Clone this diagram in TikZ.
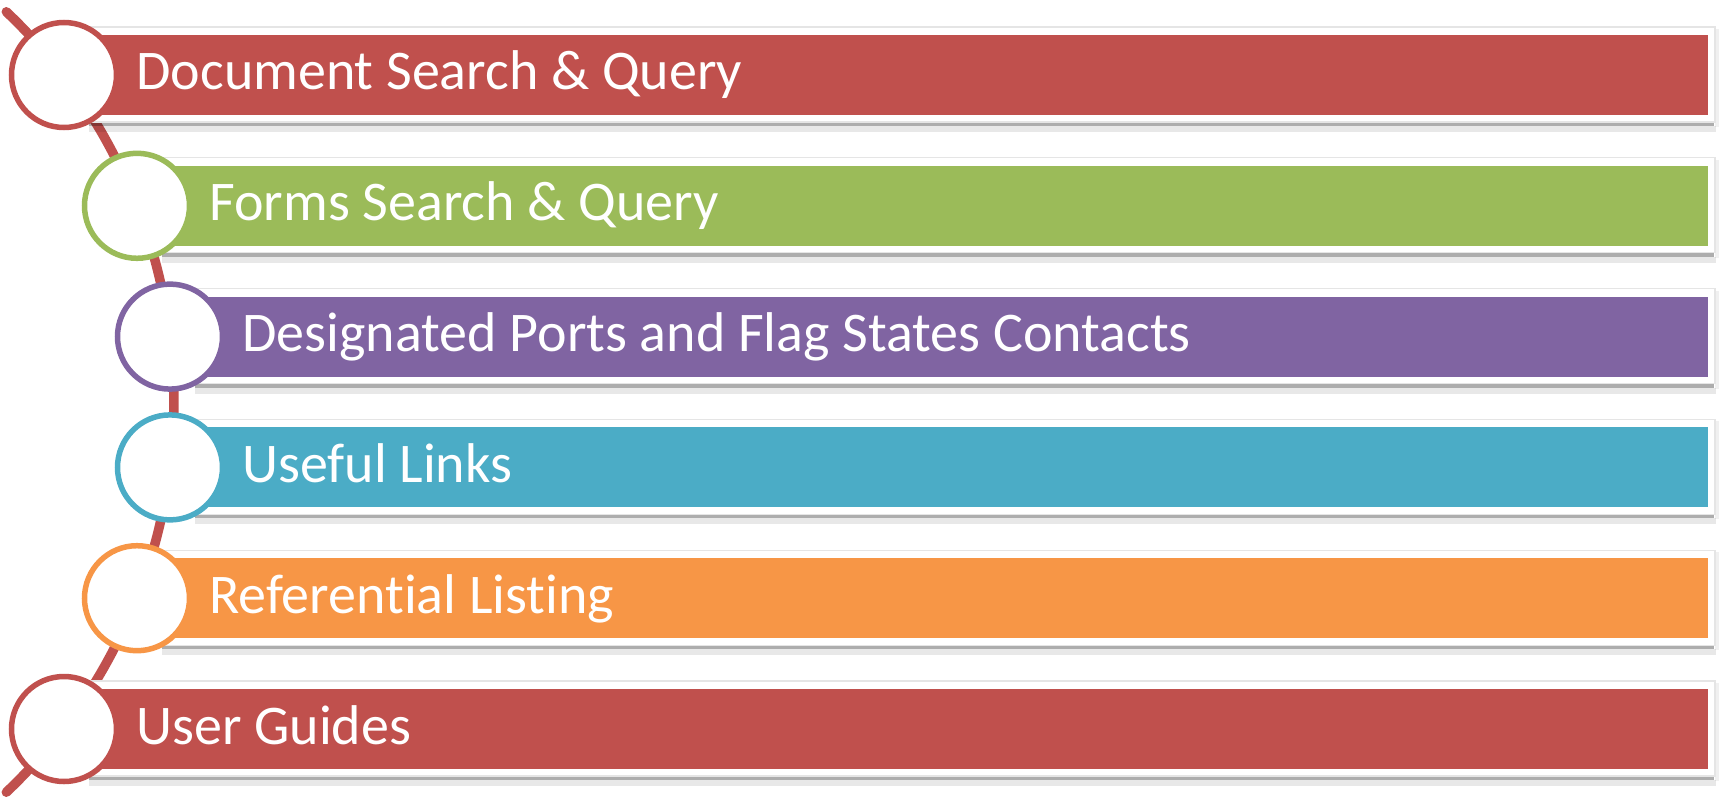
\documentclass[tikz,border=0pt]{standalone}
\usepackage{fontspec}
\setmainfont{Carlito}[Ligatures=CommonOff]
\definecolor{cred}{HTML}{C0504D}
\definecolor{cgreen}{HTML}{9BBB59}
\definecolor{cpurple}{HTML}{8064A2}
\definecolor{cblue}{HTML}{4BACC6}
\definecolor{corange}{HTML}{F79646}
\tikzset{
  ring/.style={circle, fill=white, draw=#1, line width=2.75pt, minimum size=52.5pt, inner sep=0pt},
  label/.style={anchor=base west, inner sep=0pt, text=white, font=\fontsize{28pt}{33pt}\selectfont},
  spine/.style={draw=cred, line width=4.75pt, line cap=round},
}
\begin{document}
\begin{tikzpicture}[x=0.5pt,y=-0.5pt]
\useasboundingbox (0,0) rectangle (1723,797);
\coordinate (c) at (-364,402);
\path[spine] (c) ++(-46.5:538) coordinate (s0) arc[start angle=-46.5, end angle=46.5, radius=538] coordinate (s1);
\foreach \i/\yy/\xx/\col/\txt in {
  1/75/64/cred/{Document Search \& Query},
  2/205.8/137/cgreen/{Forms Search \& Query},
  3/336.6/170/cpurple/{Designated Ports and Flag States Contacts},
  4/467.4/170/cblue/{Useful Links},
  5/598.2/137/corange/{Referential Listing},
  6/729/64/cred/{User Guides}} {
  \fill[black, opacity=0.32] (\xx+25,\yy+47) rectangle (1714,\yy+51);
  \fill[black, opacity=0.09] (\xx+25,\yy+51) rectangle (1716,\yy+57);
  \fill[black, opacity=0.06] (1715,\yy-46) rectangle (1719,\yy+52);
  \filldraw[fill=white, draw=black!10, line width=0.6pt] (\xx+25,\yy-48) rectangle (1715,\yy+47);
  \fill[\col] (\xx+25,\yy-40) rectangle (1708,\yy+40);
  \node[ring=\col] (r\i) at (\xx,\yy) {};
  \node[label] (t\i) at (\xx+72,\yy+15) {\txt};
}
\end{tikzpicture}
\end{document}
